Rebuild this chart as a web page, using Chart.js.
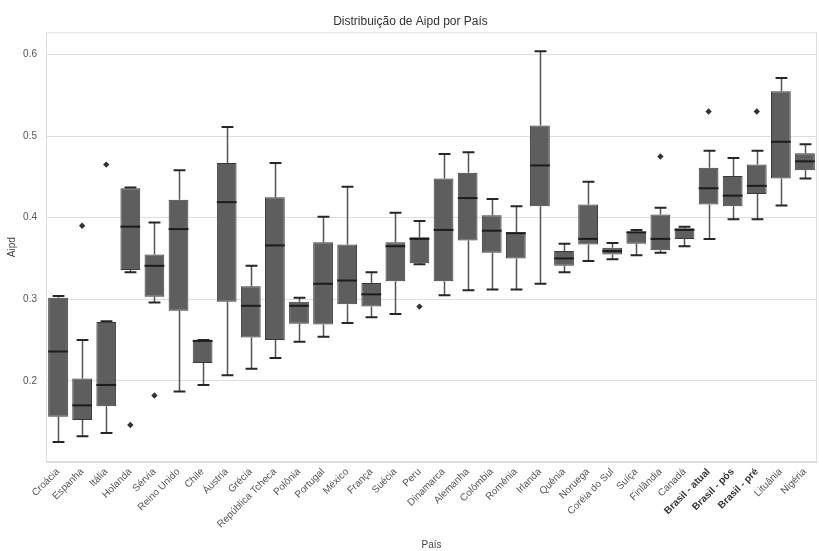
<!DOCTYPE html>
<html>
<head>
<meta charset="utf-8">
<script src="https://cdn.jsdelivr.net/npm/chart.js@4.4.1/dist/chart.umd.min.js"></script>
<style>
  html, body { margin: 0; padding: 0; background: #ffffff; overflow: hidden; width: 819px; height: 551px; }
  canvas { display: block; }
</style>
</head>
<body>
<canvas id="grafico" width="821" height="551"></canvas>
<script>
// Países (categorias do eixo x)
const paises = [
  'Croácia', 'Espanha', 'Itália', 'Holanda', 'Sérvia', 'Reino Unido', 'Chile', 'Áustria',
  'Grécia', 'República Tcheca', 'Polônia', 'Portugal', 'México', 'França', 'Suécia', 'Peru',
  'Dinamarca', 'Alemanha', 'Colômbia', 'Romênia', 'Irlanda', 'Quênia', 'Noruega', 'Coréia do Sul',
  'Suíça', 'Finlândia', 'Canadá', 'Brasil - atual', 'Brasil - pós', 'Brasil - pré', 'Lituânia', 'Nigéria'
];

// Resumo de cinco números de Aipd por país
const minimo = [0.125, 0.132, 0.136, 0.333, 0.296, 0.187, 0.195, 0.207, 0.215, 0.228, 0.248, 0.254, 0.271, 0.278, 0.282, 0.343,
                0.305, 0.311, 0.312, 0.312, 0.319, 0.333, 0.347, 0.349, 0.354, 0.357, 0.365, 0.374, 0.398, 0.398, 0.415, 0.448];
const quartil1 = [0.156, 0.152, 0.169, 0.336, 0.303, 0.286, 0.222, 0.297, 0.253, 0.250, 0.270, 0.269, 0.294, 0.291, 0.322, 0.344,
                  0.322, 0.372, 0.357, 0.350, 0.414, 0.341, 0.367, 0.355, 0.368, 0.360, 0.374, 0.416, 0.414, 0.429, 0.448, 0.458];
const mediana = [0.236, 0.170, 0.195, 0.389, 0.341, 0.386, 0.249, 0.419, 0.292, 0.366, 0.292, 0.319, 0.323, 0.306, 0.365, 0.374,
                 0.385, 0.424, 0.384, 0.381, 0.464, 0.350, 0.374, 0.359, 0.382, 0.374, 0.385, 0.436, 0.427, 0.439, 0.493, 0.469];
const quartil3 = [0.302, 0.203, 0.272, 0.436, 0.355, 0.422, 0.250, 0.467, 0.316, 0.425, 0.297, 0.370, 0.367, 0.320, 0.370, 0.376,
                  0.448, 0.455, 0.403, 0.382, 0.513, 0.359, 0.416, 0.363, 0.383, 0.404, 0.387, 0.461, 0.451, 0.465, 0.555, 0.479];
const maximo = [0.304, 0.250, 0.273, 0.437, 0.394, 0.458, 0.250, 0.511, 0.341, 0.467, 0.302, 0.401, 0.438, 0.333, 0.406, 0.396,
                0.478, 0.480, 0.423, 0.414, 0.604, 0.368, 0.444, 0.369, 0.385, 0.412, 0.389, 0.482, 0.473, 0.482, 0.571, 0.490];

// Valores atípicos
const atipicosPais = ['Espanha', 'Itália', 'Holanda', 'Sérvia', 'Peru', 'Finlândia', 'Brasil - atual', 'Brasil - pré'];
const atipicosValor = [0.390, 0.465, 0.146, 0.182, 0.291, 0.475, 0.530, 0.530];

// Marcas do eixo y
const marcasY = [0.2, 0.3, 0.4, 0.5, 0.6];
const destaque = ['Brasil - atual', 'Brasil - pós', 'Brasil - pré'];

const FONTE = "'Liberation Sans', Arial, sans-serif";
const COR_GRADE = '#dedede';
const COR_LINHA = '#3a3a3a';

// Bigodes, tampas, medianas e moldura da área do gráfico
const caixasPlugin = {
  id: 'caixas',
  beforeDatasetsDraw(chart) {
    const a = chart.chartArea, ctx = chart.ctx;
    ctx.save();
    ctx.strokeStyle = COR_GRADE;
    ctx.lineWidth = 1;
    ctx.strokeRect(a.left + 0.5, a.top + 0.5, a.right - a.left - 1, a.bottom - a.top - 1);
    const y = chart.scales.y;
    chart.getDatasetMeta(0).data.forEach((barra, i) => {
      const x = Math.round(barra.x) + 0.5;
      const meiaTampa = barra.width * 0.3;
      const yMin = y.getPixelForValue(minimo[i]);
      const yQ1 = y.getPixelForValue(quartil1[i]);
      const yQ3 = y.getPixelForValue(quartil3[i]);
      const yMax = y.getPixelForValue(maximo[i]);
      ctx.strokeStyle = '#555555';
      ctx.lineWidth = 1.5;
      ctx.beginPath();
      ctx.moveTo(x, yQ1); ctx.lineTo(x, yMin);
      ctx.moveTo(x, yQ3); ctx.lineTo(x, yMax);
      ctx.stroke();
      ctx.strokeStyle = '#262626';
      ctx.lineWidth = 2;
      ctx.beginPath();
      ctx.moveTo(x - meiaTampa, yMin); ctx.lineTo(x + meiaTampa, yMin);
      ctx.moveTo(x - meiaTampa, yMax); ctx.lineTo(x + meiaTampa, yMax);
      ctx.stroke();
    });
    ctx.restore();
  },
  afterDatasetsDraw(chart) {
    const ctx = chart.ctx, y = chart.scales.y;
    ctx.save();
    ctx.strokeStyle = '#1c1c1c';
    ctx.lineWidth = 2;
    chart.getDatasetMeta(0).data.forEach((barra, i) => {
      const yMed = y.getPixelForValue(mediana[i]);
      const meia = barra.width / 2;
      ctx.beginPath();
      ctx.moveTo(barra.x - meia, yMed);
      ctx.lineTo(barra.x + meia, yMed);
      ctx.stroke();
    });
    ctx.restore();
  }
};

new Chart(document.getElementById('grafico'), {
  type: 'bar',
  data: {
    labels: paises,
    datasets: [
      {
        label: 'Aipd',
        data: paises.map((p, i) => [quartil1[i], quartil3[i]]),
        backgroundColor: '#5e5e5e',
        borderColor: COR_LINHA,
        borderWidth: 1,
        borderSkipped: false,
        barPercentage: 0.82,
        categoryPercentage: 1.0,
        grouped: false
      },
      {
        type: 'line',
        label: 'Atípicos',
        data: atipicosPais.map((p, i) => ({ x: p, y: atipicosValor[i] })),
        showLine: false,
        pointStyle: 'rectRot',
        pointRadius: 3.2,
        pointBackgroundColor: '#333333',
        pointBorderWidth: 0
      }
    ]
  },
  options: {
    responsive: false,
    animation: false,
    layout: { padding: 0 },
    plugins: {
      legend: { display: false },
      tooltip: { enabled: false },
      title: {
        display: true,
        text: 'Distribuição de Aipd por País',
        color: '#333333',
        font: { family: FONTE, size: 12, weight: 'normal' },
        padding: { top: 14, bottom: 4 }
      }
    },
    scales: {
      x: {
        grid: { display: false, drawTicks: false },
        border: { display: true, color: COR_GRADE },
        afterFit: (s) => { s.height = 89; },
        ticks: {
          autoSkip: false,
          maxRotation: 45,
          minRotation: 45,
          padding: 4,
          color: (c) => destaque.includes(paises[c.index]) ? '#333333' : '#555555',
          font: (c) => ({
            family: FONTE,
            size: 10,
            weight: destaque.includes(paises[c.index]) ? 'bold' : 'normal'
          })
        },
        title: {
          display: true,
          text: 'País',
          color: '#444444',
          font: { family: FONTE, size: 10 },
          padding: { top: 0, bottom: 0 }
        }
      },
      y: {
        min: 0.1006,
        max: 0.627,
        afterBuildTicks: (s) => { s.ticks = marcasY.map(v => ({ value: v })); },
        afterFit: (s) => { s.width = 46; },
        grid: { color: COR_GRADE, drawTicks: false, lineWidth: 1 },
        border: { display: true, color: COR_GRADE },
        ticks: {
          padding: 9,
          color: '#555555',
          font: { family: FONTE, size: 10 },
          callback: (v) => Number(v).toFixed(1)
        },
        title: {
          display: true,
          text: 'Aipd',
          color: '#444444',
          font: { family: FONTE, size: 10 },
          padding: { top: 6, bottom: 0 }
        }
      }
    }
  },
  plugins: [caixasPlugin]
});
</script>
</body>
</html>
